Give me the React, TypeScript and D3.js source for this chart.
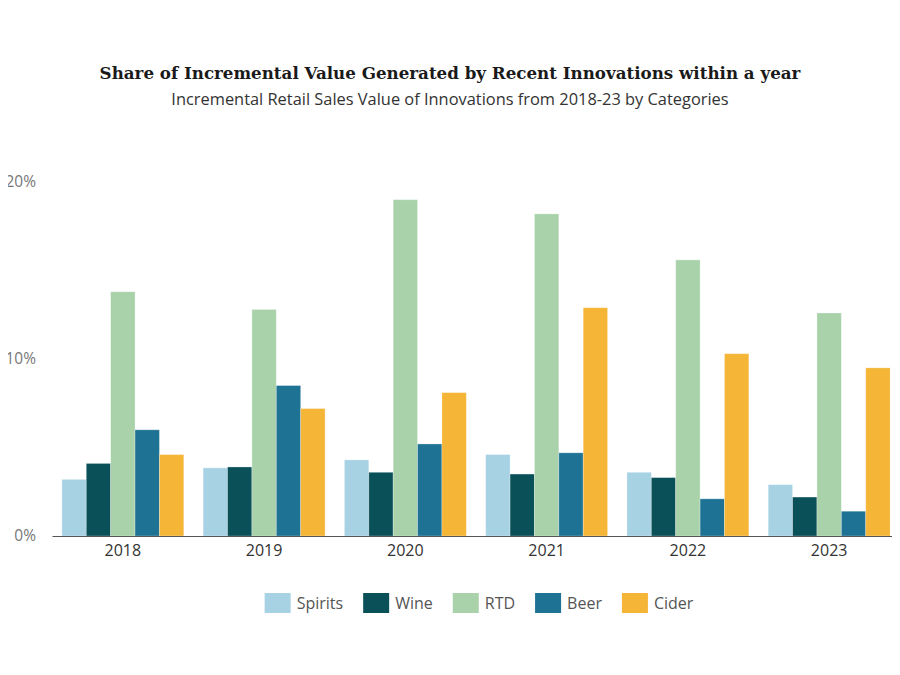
import * as d3 from "d3";
import { useEffect, useRef } from "react";

const years = ["2018", "2019", "2020", "2021", "2022", "2023"];
const categories = ["Spirits", "Wine", "RTD", "Beer", "Cider"];
const colors = ["#a6d2e4", "#0a5058", "#a9d2ab", "#1e7294", "#f5b536"];

// share of incremental value, percent, one array per category (2018..2023)
const spirits = [3.2, 3.85, 4.3, 4.6, 3.6, 2.9];
const wine = [4.1, 3.9, 3.6, 3.5, 3.3, 2.2];
const rtd = [13.8, 12.8, 19.0, 18.2, 15.6, 12.6];
const beer = [6.0, 8.5, 5.2, 4.7, 2.1, 1.4];
const cider = [4.6, 7.2, 8.1, 12.9, 10.3, 9.5];

const yTicks = [0, 10, 20];

const title = "Share of Incremental Value Generated by Recent Innovations within a year";
const subtitle = "Incremental Retail Sales Value of Innovations from 2018-23 by Categories";

const W = 900;
const H = 675;
const margin = { top: 182, right: 0, bottom: 139, left: 52 };
const sans = "'Open Sans', 'Noto Sans', sans-serif";

export default function App() {
    const svgRef = useRef(null);

    useEffect(() => {
        const svg = d3.select(svgRef.current);
        svg.selectAll("*").remove();

        const series = [spirits, wine, rtd, beer, cider];
        const innerW = W - margin.left - margin.right;
        const innerH = H - margin.top - margin.bottom;

        const x0 = d3.scaleBand().domain(years).range([0, innerW]).paddingInner(0.137).paddingOuter(0.07);
        const x1 = d3.scaleBand().domain(categories).range([0, x0.bandwidth()]);
        const y = d3.scaleLinear().domain([0, 20]).range([innerH, 0]);
        const color = d3.scaleOrdinal<string>().domain(categories).range(colors);

        // titles
        svg.append("text")
            .attr("x", W / 2)
            .attr("y", 79)
            .attr("text-anchor", "middle")
            .style("font-family", "'DejaVu Serif', serif")
            .style("font-weight", "bold")
            .style("font-size", "16.7px")
            .style("fill", "#1a1a1a")
            .text(title);

        svg.append("text")
            .attr("x", W / 2)
            .attr("y", 105)
            .attr("text-anchor", "middle")
            .style("font-family", sans)
            .style("font-size", "16.4px")
            .style("fill", "#333")
            .text(subtitle);

        const g = svg.append("g").attr("transform", `translate(${margin.left},${margin.top})`);

        // y tick labels, no axis line
        g.append("g")
            .selectAll("text")
            .data(yTicks)
            .join("text")
            .attr("x", -16)
            .attr("y", d => y(d))
            .attr("dy", "0.35em")
            .attr("text-anchor", "end")
            .style("font-family", sans)
            .style("font-size", "15.5px")
            .style("fill", "#777")
            .text(d => d + "%");

        // bars
        const groups = g.append("g")
            .selectAll("g")
            .data(years)
            .join("g")
            .attr("transform", d => `translate(${x0(d)},0)`);

        groups.selectAll("rect")
            .data((_, i) => categories.map((c, k) => ({ cat: c, value: series[k][i] })))
            .join("rect")
            .attr("x", d => x1(d.cat)!)
            .attr("y", d => y(d.value))
            .attr("width", x1.bandwidth())
            .attr("height", d => innerH - y(d.value))
            .attr("fill", d => color(d.cat))
            .attr("stroke", "#ffffff")
            .attr("stroke-opacity", 0.35)
            .attr("stroke-width", 0.8);

        // x axis
        const xAxis = g.append("g")
            .attr("transform", `translate(0,${innerH})`)
            .call(d3.axisBottom(x0).tickSize(0).tickPadding(9));
        xAxis.select(".domain").attr("stroke", "#555").attr("stroke-width", 1.2);
        xAxis.selectAll(".tick text")
            .style("font-family", sans)
            .style("font-size", "16px")
            .style("fill", "#333");

        // legend row
        const legend = svg.append("g");
        const items = legend.selectAll("g")
            .data(categories)
            .join("g");
        items.append("rect")
            .attr("width", 26)
            .attr("height", 20)
            .attr("y", -10)
            .attr("fill", d => color(d));
        items.append("text")
            .attr("x", 32)
            .attr("dy", "0.35em")
            .style("font-family", sans)
            .style("font-size", "16px")
            .style("fill", "#555")
            .text(d => d);

        let offset = 0;
        items.each(function () {
            const node = this as SVGGElement;
            const tw = (node.querySelector("text") as SVGTextElement).getComputedTextLength();
            d3.select(node).attr("transform", `translate(${offset},0)`);
            offset += 32 + tw + 20;
        });
        const total = offset - 20;
        legend.attr("transform", `translate(${479 - total / 2},603)`);
    }, []);

    return (
        <div style={{ width: W, height: H, margin: -8 }}>
            <svg ref={svgRef} width={W} height={H} style={{ display: "block", background: "#fff" }} />
        </div>
    );
}
